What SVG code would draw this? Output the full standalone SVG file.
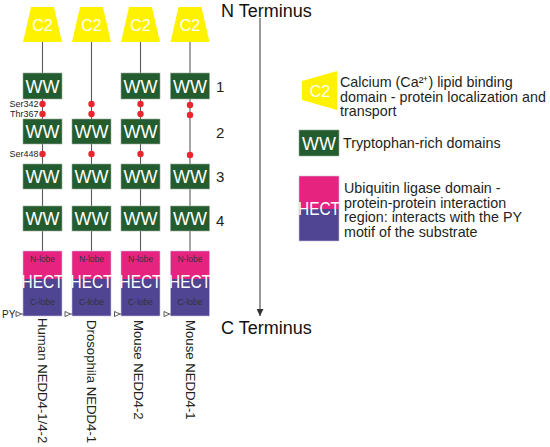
<svg xmlns="http://www.w3.org/2000/svg" width="550" height="447" viewBox="0 0 550 447">
<defs>
<style>
.c2{fill:#FFF200}
.c2t{fill:#fff;font-family:"Liberation Sans",Arial,sans-serif;font-size:16px;text-anchor:middle}
.ww{fill:#235C2E;stroke:#9aaa9c;stroke-width:0.6}
.wwt{fill:#fff;font-family:"Liberation Sans",Arial,sans-serif;font-size:18px;text-anchor:middle}
.nl{fill:#E6247F}
.cl{fill:#4F4593}
.hb{fill:none;stroke:#c9bfd9;stroke-width:0.6}
.ht{fill:#fff;font-family:"Liberation Sans",Arial,sans-serif;font-size:17.5px;text-anchor:middle}
.lobe{fill:#333;font-family:"Liberation Sans",Arial,sans-serif;font-size:8.5px;text-anchor:middle}
.conn{stroke:#5a5a5a;stroke-width:1.1;fill:none}
.dot{fill:#E8262D}
.site{fill:#231f20;font-family:"Liberation Sans",Arial,sans-serif;font-size:9px;text-anchor:end}
.py{fill:#fff;stroke:#333;stroke-width:0.8}
.lbl{fill:#231f20;font-family:"Liberation Sans",Arial,sans-serif;font-size:13.2px}
.num{fill:#231f20;font-family:"Liberation Sans",Arial,sans-serif;font-size:15px}
.term{fill:#111;font-family:"Liberation Sans",Arial,sans-serif;font-size:18px}
.leg{fill:#231f20;font-family:"Liberation Sans",Arial,sans-serif;font-size:14.3px}
</style>
<marker id="arr" viewBox="0 0 10 10" refX="10" refY="5" markerWidth="7" markerHeight="7" markerUnits="userSpaceOnUse" orient="auto">
<path d="M0,0 L10,5 L0,10 Z" fill="#333"/>
</marker>
</defs>
<rect width="550" height="447" fill="#fff"/>

<!-- connectors -->
<g id="connectors">
<line class="conn" x1="42.5" y1="42" x2="42.5" y2="251"/>
<line class="conn" x1="91.5" y1="42" x2="91.5" y2="251"/>
<line class="conn" x1="140.5" y1="42" x2="140.5" y2="251"/>
<line class="conn" x1="190" y1="42" x2="190" y2="251"/>
<line x1="260" y1="18" x2="260" y2="316" stroke="#555" stroke-width="1.2" marker-end="url(#arr)"/>
</g>

<!-- C2 domains -->
<g id="c2-1"><polygon class="c2" points="31,7 54,7 62,42 23,42"/><text class="c2t" x="42.5" y="30.5">C2</text></g>
<g id="c2-2"><polygon class="c2" points="80,7 103,7 111,42 72,42"/><text class="c2t" x="91.5" y="30.5">C2</text></g>
<g id="c2-3"><polygon class="c2" points="129,7 152,7 160,42 121,42"/><text class="c2t" x="140.5" y="30.5">C2</text></g>
<g id="c2-4"><polygon class="c2" points="178.5,7 201.5,7 209.5,42 170.5,42"/><text class="c2t" x="190" y="30.5">C2</text></g>

<!-- WW domains -->
<g id="ww1-1"><rect class="ww" x="23" y="73" width="39" height="26"/><text class="wwt" x="42.5" y="92.5">WW</text></g>
<g id="ww1-3"><rect class="ww" x="121" y="73" width="39" height="26"/><text class="wwt" x="140.5" y="92.5">WW</text></g>
<g id="ww1-4"><rect class="ww" x="170.5" y="73" width="39" height="26"/><text class="wwt" x="190" y="92.5">WW</text></g>

<g id="ww2-1"><rect class="ww" x="23" y="119" width="39" height="25"/><text class="wwt" x="42.5" y="138">WW</text></g>
<g id="ww2-2"><rect class="ww" x="72" y="119" width="39" height="25"/><text class="wwt" x="91.5" y="138">WW</text></g>
<g id="ww2-3"><rect class="ww" x="121" y="119" width="39" height="25"/><text class="wwt" x="140.5" y="138">WW</text></g>

<g id="ww3-1"><rect class="ww" x="23" y="164" width="39" height="25"/><text class="wwt" x="42.5" y="183">WW</text></g>
<g id="ww3-2"><rect class="ww" x="72" y="164" width="39" height="25"/><text class="wwt" x="91.5" y="183">WW</text></g>
<g id="ww3-3"><rect class="ww" x="121" y="164" width="39" height="25"/><text class="wwt" x="140.5" y="183">WW</text></g>
<g id="ww3-4"><rect class="ww" x="170.5" y="164" width="39" height="25"/><text class="wwt" x="190" y="183">WW</text></g>

<g id="ww4-1"><rect class="ww" x="23" y="206" width="39" height="25"/><text class="wwt" x="42.5" y="225">WW</text></g>
<g id="ww4-2"><rect class="ww" x="72" y="206" width="39" height="25"/><text class="wwt" x="91.5" y="225">WW</text></g>
<g id="ww4-3"><rect class="ww" x="121" y="206" width="39" height="25"/><text class="wwt" x="140.5" y="225">WW</text></g>
<g id="ww4-4"><rect class="ww" x="170.5" y="206" width="39" height="25"/><text class="wwt" x="190" y="225">WW</text></g>

<!-- phosphorylation sites -->
<g id="sites">
<circle class="dot" cx="42.5" cy="104" r="3.2"/><circle class="dot" cx="42.5" cy="114" r="3.2"/><circle class="dot" cx="42.5" cy="154" r="3.2"/>
<circle class="dot" cx="91.5" cy="104" r="3.2"/><circle class="dot" cx="91.5" cy="114" r="3.2"/><circle class="dot" cx="91.5" cy="154" r="3.2"/>
<circle class="dot" cx="140.5" cy="104" r="3.2"/><circle class="dot" cx="140.5" cy="114" r="3.2"/><circle class="dot" cx="140.5" cy="154" r="3.2"/>
<circle class="dot" cx="190" cy="105" r="3.2"/><circle class="dot" cx="190" cy="115" r="3.2"/><circle class="dot" cx="190" cy="155" r="3.2"/>
<text class="site" x="38.5" y="107">Ser342</text>
<text class="site" x="38.5" y="117">Thr367</text>
<text class="site" x="38.5" y="157">Ser448</text>
</g>

<!-- HECT domains -->
<g id="hect-1"><rect class="nl" x="23" y="251" width="39" height="28"/><rect class="cl" x="23" y="279" width="39" height="37"/><rect class="hb" x="23" y="251" width="39" height="65"/><text class="ht" x="42.5" y="287.5" textLength="42" lengthAdjust="spacingAndGlyphs">HECT</text><text class="lobe" x="42.5" y="262">N-lobe</text><text class="lobe" x="42.5" y="305">C-lobe</text></g>
<g id="hect-2"><rect class="nl" x="72" y="251" width="39" height="28"/><rect class="cl" x="72" y="279" width="39" height="37"/><rect class="hb" x="72" y="251" width="39" height="65"/><text class="ht" x="91.5" y="287.5" textLength="42" lengthAdjust="spacingAndGlyphs">HECT</text><text class="lobe" x="91.5" y="262">N-lobe</text><text class="lobe" x="91.5" y="305">C-lobe</text></g>
<g id="hect-3"><rect class="nl" x="121" y="251" width="39" height="28"/><rect class="cl" x="121" y="279" width="39" height="37"/><rect class="hb" x="121" y="251" width="39" height="65"/><text class="ht" x="140.5" y="287.5" textLength="42" lengthAdjust="spacingAndGlyphs">HECT</text><text class="lobe" x="140.5" y="262">N-lobe</text><text class="lobe" x="140.5" y="305">C-lobe</text></g>
<g id="hect-4"><rect class="nl" x="170.5" y="251" width="39" height="28"/><rect class="cl" x="170.5" y="279" width="39" height="37"/><rect class="hb" x="170.5" y="251" width="39" height="65"/><text class="ht" x="190" y="287.5" textLength="42" lengthAdjust="spacingAndGlyphs">HECT</text><text class="lobe" x="190" y="262">N-lobe</text><text class="lobe" x="190" y="305">C-lobe</text></g>

<!-- PY motifs -->
<g id="py">
<text x="2" y="318" fill="#231f20" font-family="Liberation Sans, Arial, sans-serif" font-size="10">PY</text>
<path class="py" d="M16,311.5 L21.5,314 L16,316.5 Z"/><line x1="21.5" y1="314" x2="23" y2="314" stroke="#333" stroke-width="0.8"/>
<path class="py" d="M65,311.5 L70.5,314 L65,316.5 Z"/><line x1="70.5" y1="314" x2="72" y2="314" stroke="#333" stroke-width="0.8"/>
<path class="py" d="M114.5,311.5 L120,314 L114.5,316.5 Z"/><line x1="120" y1="314" x2="121" y2="314" stroke="#333" stroke-width="0.8"/>
<path class="py" d="M164,311.5 L169.5,314 L164,316.5 Z"/><line x1="169.5" y1="314" x2="170.5" y2="314" stroke="#333" stroke-width="0.8"/>
</g>

<!-- species labels -->
<g id="labels">
<text class="lbl" transform="translate(37.5,318) rotate(90)">Human NEDD4-1/4-2</text>
<text class="lbl" transform="translate(87,320) rotate(90)">Drosophila NEDD4-1</text>
<text class="lbl" transform="translate(134,320) rotate(90)">Mouse NEDD4-2</text>
<text class="lbl" transform="translate(186,320) rotate(90)">Mouse NEDD4-1</text>
</g>

<!-- row numbers -->
<g id="numbers">
<text class="num" x="216" y="92">1</text>
<text class="num" x="216" y="138">2</text>
<text class="num" x="216" y="182">3</text>
<text class="num" x="216" y="226">4</text>
</g>

<g id="n-terminus"><text class="term" x="221" y="17">N Terminus</text></g>
<g id="c-terminus"><text class="term" x="221" y="334">C Terminus</text></g>

<!-- legend -->
<g id="legend-c2">
<polygon class="c2" points="302,81 337,71 337,110 302,100"/>
<text class="c2t" x="320" y="96.5">C2</text>
<text class="leg" x="340" y="87">Calcium (Ca²⁺) lipid binding</text>
<text class="leg" x="340" y="101.5">domain - protein localization and</text>
<text class="leg" x="340" y="116">transport</text>
</g>
<g id="legend-ww">
<rect class="ww" x="299" y="130" width="40" height="26"/>
<text class="wwt" x="319" y="149.5">WW</text>
<text class="leg" x="343" y="148">Tryptophan-rich domains</text>
</g>
<g id="legend-hect">
<rect class="nl" x="299" y="176" width="40" height="33"/>
<rect class="cl" x="299" y="209" width="40" height="32"/>
<rect class="hb" x="299" y="176" width="40" height="65"/>
<text class="ht" x="319" y="214.5" textLength="42" lengthAdjust="spacingAndGlyphs">HECT</text>
<text class="leg" x="344" y="193">Ubiquitin ligase domain -</text>
<text class="leg" x="344" y="207.5">protein-protein interaction</text>
<text class="leg" x="344" y="222">region: interacts with the PY</text>
<text class="leg" x="344" y="236.5">motif of the substrate</text>
</g>
</svg>
